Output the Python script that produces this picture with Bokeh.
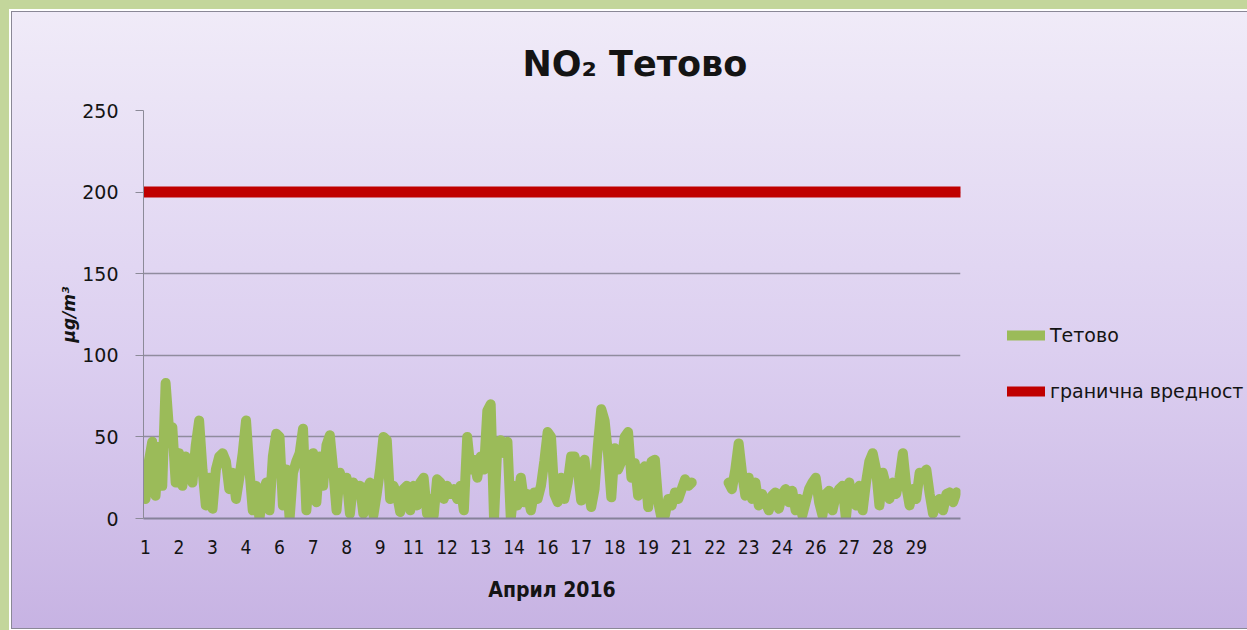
from bokeh.plotting import figure
from bokeh.models import Range1d, FixedTicker, Legend, LegendItem
from bokeh.layouts import column, row
from bokeh.embed import file_html
from bokeh.resources import INLINE

nan = float("nan")

# 3-hourly NO2 values (µg/m3), April 2016, Tetovo (gap = missing data)
tetovo = [
    12, 35, 47, 14, 44, 20, 83, 55,   # 1
    56, 22, 40, 20, 38, 35, 22, 45,   # 2
    60, 30, 8, 25, 6, 30, 38, 40,     # 3
    35, 18, 28, 12, 25, 40, 60, 30,   # 4
    5, 20, 0, 15, 22, 5, 38, 52,      # 5
    50, 8, 30, 0, 28, 35, 40, 55,     # 6
    5, 30, 40, 10, 38, 20, 45, 51,    # 7
    30, 5, 28, 20, 25, 3, 22, 18,     # 8
    20, 3, 18, 22, 2, 15, 30, 50,     # 9
    48, 12, 20, 15, 4, 18, 20, 5,     # 10
    20, 8, 22, 25, 3, 12, 2, 24,      # 11
    22, 12, 20, 15, 18, 12, 20, 5,    # 12
    50, 30, 36, 25, 38, 30, 66, 70,   # 13
    0, 45, 48, 40, 47, 0, 20, 8,      # 14
    25, 10, 15, 5, 16, 12, 20, 35,    # 15
    53, 50, 15, 10, 25, 12, 22, 38,   # 16
    38, 30, 11, 36, 20, 7, 18, 45,    # 17
    67, 60, 40, 13, 43, 30, 35, 50,   # 18
    53, 25, 34, 14, 30, 32, 7, 35,    # 19
    36, 10, 0, 2, 12, 8, 16, 12,      # 20
    18, 24, 20, 22, nan, nan, nan, nan,   # 21
    nan, nan, nan, nan, nan, nan, 22, 18,  # 22
    30, 46, 28, 14, 25, 12, 22, 8,    # 23
    15, 10, 5, 14, 16, 6, 15, 18,     # 24
    10, 17, 5, 12, 2, 10, 18, 22,     # 25
    25, 10, 2, 15, 17, 5, 14, 18,     # 26
    20, 0, 22, 12, 8, 20, 5, 22,      # 27
    35, 40, 30, 8, 28, 20, 12, 22,    # 28
    15, 25, 40, 20, 8, 18, 12, 28,    # 29
    27, 30, 15, 3, 10, 12, 5, 15,     # 30
    16, 10, 16,
]
limit_value = 200
step_hours = 3

tick_hours = [0, 30, 60, 90, 120, 150, 180, 210, 240, 270, 300, 330,
              360, 390, 420, 450, 480, 510, 540, 570, 600, 630, 660, 690]
tick_labels = ["1", "2", "3", "4", "6", "7", "8", "9", "11", "12", "13", "14",
               "16", "17", "18", "19", "21", "22", "23", "24", "26", "27", "28", "29"]
y_ticks = [0, 50, 100, 150, 200, 250]

series_names = ["Тетово", "гранична вредност"]
title_text = "NO\u2082 Тетово"
x_title = "Април 2016"
y_title = "\u03bcg/m\u00b3"

hours = [i * step_hours for i in range(len(tetovo))]
limit = [limit_value] * len(hours)

TXT = "#141414"
GREEN = "#9bbb59"
RED = "#c00000"

# ---- main chart ----
p = figure(width=993, height=616,
           x_range=Range1d(-1.8, 729.6), y_range=Range1d(0, 250),
           output_backend="svg", toolbar_location=None,
           min_border_left=131, min_border_right=45,
           min_border_top=98, min_border_bottom=110,
           border_fill_color=None, background_fill_color=None,
           outline_line_color=None)

p.title.text = title_text
p.title.align = "left"
p.title.offset = 379
p.title.standoff = 53
p.title.text_font = "DejaVu Sans"
p.title.text_font_size = "35px"
p.title.text_font_style = "bold"
p.title.text_color = TXT

g = p.line(hours, tetovo, line_color=GREEN, line_width=10,
           line_join="round", line_cap="round")
r = p.line(hours, limit, line_color=RED, line_width=11, line_cap="square")

yax = p.yaxis[0]
yax.ticker = FixedTicker(ticks=y_ticks)
yax.axis_line_color = "#8c8a98"
yax.major_tick_line_color = "#8c8a98"
yax.major_tick_out = 8
yax.major_tick_in = 0
yax.minor_tick_line_color = None
yax.major_label_standoff = 17
yax.major_label_text_font = "DejaVu Sans"
yax.major_label_text_font_size = "19px"
yax.major_label_text_color = TXT
yax.axis_label = y_title
yax.axis_label_text_font = "DejaVu Sans"
yax.axis_label_text_font_size = "17px"
yax.axis_label_text_font_style = "bold italic"
yax.axis_label_text_color = TXT
yax.axis_label_standoff = 0

xax = p.xaxis[0]
xax.ticker = FixedTicker(ticks=tick_hours)
xax.major_label_overrides = {h: lab for h, lab in zip(tick_hours, tick_labels)}
xax.axis_line_color = "#86829a"
xax.axis_line_width = 2
xax.major_tick_line_color = None
xax.minor_tick_line_color = None
xax.major_label_standoff = 15
xax.major_label_text_font = "DejaVu Sans Condensed"
xax.major_label_text_font_size = "19px"
xax.major_label_text_color = TXT
xax.axis_label = x_title
xax.axis_label_text_font = "DejaVu Sans Condensed"
xax.axis_label_text_font_size = "21px"
xax.axis_label_text_font_style = "bold"
xax.axis_label_text_color = TXT
xax.axis_label_standoff = 21

p.xgrid.grid_line_color = None
p.ygrid.ticker = FixedTicker(ticks=y_ticks)
p.ygrid.grid_line_color = "#908c9e"
p.ygrid.grid_line_width = 1.5

# ---- legend panel (right of the chart) ----
lf = figure(width=242, height=616, title=None,
            x_range=Range1d(0, 1), y_range=Range1d(0, 1),
            x_axis_type=None, y_axis_type=None,
            output_backend="svg", toolbar_location=None,
            min_border=0, border_fill_color=None, background_fill_color=None,
            outline_line_color=None)
lf.xgrid.visible = False
lf.ygrid.visible = False
# legend keys only (no visible marks)
lg = lf.line([nan], [nan], line_color=GREEN, line_width=10, line_cap="round")
lr = lf.line([nan], [nan], line_color=RED, line_width=10, line_cap="round")

legend = Legend(items=[LegendItem(label=series_names[0], renderers=[lg]),
                       LegendItem(label=series_names[1], renderers=[lr])],
                location=(2, 116), orientation="vertical",
                glyph_width=38, glyph_height=20, label_height=20,
                label_standoff=5, spacing=34, padding=0, margin=0,
                border_line_color=None, background_fill_alpha=0,
                label_text_font="DejaVu Sans", label_text_font_size="19px",
                label_text_color=TXT)
lf.add_layout(legend, "center")

panel = row(p, lf, styles={
    "background": "linear-gradient(to bottom, #f0ebf8 0%, #dccff0 55%, #c7b3e3 100%)",
    "box-shadow": "0 0 0 1px #8a8896, 0 0 0 3px #ffffff"})

page = column(panel, styles={"border-top": "12px solid #c3d69b",
                             "border-left": "12px solid #c3d69b",
                             "border-bottom": "2px solid #c3d69b",
                             "background-color": "#c3d69b"})

open("out.html", "w").write(file_html(page, INLINE))
